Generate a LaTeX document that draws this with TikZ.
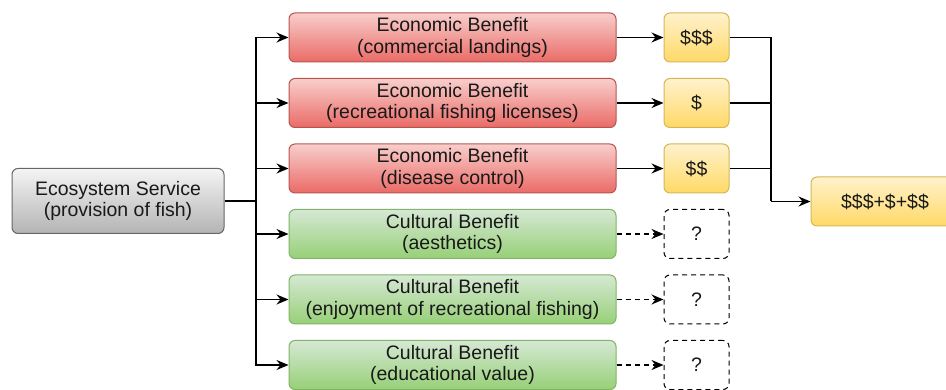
\documentclass[tikz,border=0pt]{standalone}
\usepackage{fontspec}
\setmainfont{Liberation Sans}
\usetikzlibrary{arrows.meta}
\definecolor{redTop}{HTML}{F8CECC}\definecolor{redBot}{HTML}{EA6B66}\definecolor{redLine}{HTML}{B85450}
\definecolor{grnTop}{HTML}{D5E8D4}\definecolor{grnBot}{HTML}{97D077}\definecolor{grnLine}{HTML}{82B366}
\definecolor{ylwTop}{HTML}{FFF2CC}\definecolor{ylwBot}{HTML}{FFD966}\definecolor{ylwLine}{HTML}{D6B656}
\definecolor{gryTop}{HTML}{F5F5F5}\definecolor{gryBot}{HTML}{B3B3B3}\definecolor{gryLine}{HTML}{666666}
\tikzset{
  box/.style={rounded corners=6pt, line width=1pt, align=center, inner sep=0pt,
    font=\fontsize{19.5}{21.5}\selectfont, text=black!90},
  service/.style={box, draw=gryLine, top color=gryTop, bottom color=gryBot,
    minimum width=212pt, minimum height=65pt},
  econ/.style={box, draw=redLine, top color=redTop, bottom color=redBot,
    minimum width=327pt, minimum height=49pt},
  cult/.style={box, draw=grnLine, top color=grnTop, bottom color=grnBot,
    minimum width=327pt, minimum height=49pt},
  value/.style={box, draw=ylwLine, top color=ylwTop, bottom color=ylwBot,
    minimum width=65pt, minimum height=49pt},
  unknown/.style={box, draw=black, fill=white, dash pattern=on 5pt off 4pt,
    minimum width=65pt, minimum height=49pt},
  link/.style={line width=1.3pt, black},
  arr/.style={link, -{Stealth[length=12pt,width=10pt,inset=4pt]}},
  darr/.style={arr, dash pattern=on 5pt off 4pt},
}
\begin{document}
\begin{tikzpicture}[x=1pt,y=-1pt]
\useasboundingbox (0,0) rectangle (946,390);
\clip (0,0) rectangle (946,390);

% source service
\node[service] (S) at (118,201) {Ecosystem Service\\(provision of fish)};

% benefits
\node[econ] (e1) at (452.5,37.5) {Economic Benefit\\(commercial landings)};
\node[econ] (e2) at (452.5,103) {Economic Benefit\\(recreational fishing licenses)};
\node[econ] (e3) at (452.5,168.5) {Economic Benefit\\(disease control)};
\node[cult] (c1) at (452.5,234) {Cultural Benefit\\(aesthetics)};
\node[cult] (c2) at (452.5,299.5) {Cultural Benefit\\(enjoyment of recreational fishing)};
\node[cult] (c3) at (452.5,365) {Cultural Benefit\\(educational value)};

% values
\node[value] (v1) at (696.5,37.5) {\$\$\$};
\node[value] (v2) at (696.5,103) {\$};
\node[value] (v3) at (696.5,168.5) {\$\$};
\node[unknown] (q1) at (696.5,234) {?};
\node[unknown] (q2) at (696.5,299.5) {?};
\node[unknown] (q3) at (696.5,365) {?};

% total
\node[value, minimum width=148pt] (T) at (885,201.5) {\$\$\$+\$+\$\$};

% fan-out from the service
\coordinate (fan) at (256,201);
\draw[link] (S.east) -- (fan);
\foreach \n in {e1,e2,e3,c1,c2,c3}
  \draw[arr] (fan) |- (\n.west);

% benefit to value
\foreach \a/\b in {e1/v1,e2/v2,e3/v3}
  \draw[arr] (\a.east) -- (\b.west);
\foreach \a/\b in {c1/q1,c2/q2,c3/q3}
  \draw[darr] (\a.east) -- (\b.west);

% merge into the total
\coordinate (m) at (771,201.5);
\draw[link] (v1.east) -| (m);
\draw[link] (v2.east) -| (m);
\draw[link] (v3.east) -| (m);
\draw[arr] (m) -- (T.west);
\end{tikzpicture}
\end{document}
